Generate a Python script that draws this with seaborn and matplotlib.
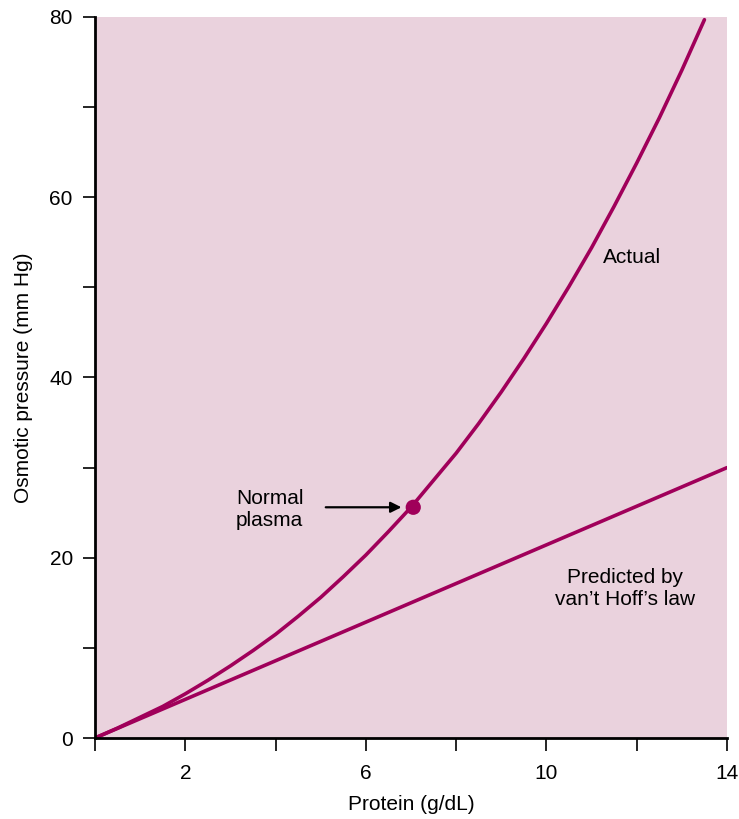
import matplotlib
matplotlib.use("Agg")
import matplotlib.pyplot as plt
import seaborn as sns
import pandas as pd

# data
protein_actual = [0, 0.5, 1, 1.5, 2, 2.5, 3, 3.5, 4, 4.5, 5, 5.5, 6, 6.5, 7, 7.5, 8, 8.5,
                  9, 9.5, 10, 10.5, 11, 11.5, 12, 12.5, 13, 13.5]
pressure_actual = [0, 1.1, 2.3, 3.5, 4.9, 6.4, 8.0, 9.7, 11.5, 13.5, 15.6, 17.9, 20.3, 22.9,
                   25.6, 28.6, 31.6, 34.9, 38.4, 42.1, 46.0, 50.1, 54.4, 59.0, 63.8, 68.8,
                   74.1, 79.7]
protein_vanthoff = [0, 14]
pressure_vanthoff = [0, 30]
normal_protein = [7.05]
normal_pressure = [25.6]

x_ticks = [0, 2, 4, 6, 8, 10, 12, 14]
x_tick_labels = ["", "2", "", "6", "", "10", "", "14"]
y_ticks = [0, 10, 20, 30, 40, 50, 60, 70, 80]
y_tick_labels = ["0", "", "20", "", "40", "", "60", "", "80"]

LINE = "#A0005A"
BG = "#EAD2DD"
FS = 15

sns.set_style("ticks")
plt.rcParams["font.family"] = ["Liberation Sans", "DejaVu Sans"]
plt.rcParams["text.color"] = "black"
plt.rcParams["axes.labelcolor"] = "black"

fig = plt.figure(figsize=(7.39, 8.19), dpi=100)
ax = fig.add_axes([95 / 739, 1 - 738 / 819, 632 / 739, 721 / 819])
ax.set_facecolor(BG)

actual = pd.DataFrame({"protein": protein_actual, "pressure": pressure_actual})
vanthoff = pd.DataFrame({"protein": protein_vanthoff, "pressure": pressure_vanthoff})
sns.lineplot(data=actual, x="protein", y="pressure", color=LINE, linewidth=2.6, ax=ax)
sns.lineplot(data=vanthoff, x="protein", y="pressure", color=LINE, linewidth=2.6, ax=ax)
sns.scatterplot(x=normal_protein, y=normal_pressure, color=LINE, s=120, edgecolor="none",
                zorder=5, ax=ax)

ax.set_xlim(0, 14)
ax.set_ylim(0, 80)
ax.set_xticks(x_ticks)
ax.set_xticklabels(x_tick_labels)
ax.set_yticks(y_ticks)
ax.set_yticklabels(y_tick_labels)
ax.tick_params(axis="both", length=9, width=1.2, colors="black", labelsize=FS)
ax.tick_params(axis="x", pad=10)
ax.tick_params(axis="y", pad=7)
for s in ["top", "right"]:
    ax.spines[s].set_visible(False)
for s in ["left", "bottom"]:
    ax.spines[s].set_linewidth(2)
    ax.spines[s].set_color("black")

ax.set_xlabel("Protein (g/dL)", fontsize=FS, labelpad=8)
ax.set_ylabel("Osmotic pressure (mm Hg)", fontsize=FS, labelpad=12)

ax.text(11.9, 53.3, "Actual", fontsize=FS, ha="center", va="center")
ax.text(3.12, 25.4, "Normal\nplasma", fontsize=FS, ha="left", va="center", linespacing=1.2)
ax.annotate("", xy=(6.85, 25.6), xytext=(5.05, 25.6),
            arrowprops=dict(arrowstyle="-|>", color="black", lw=1.6, mutation_scale=16))
ax.text(11.75, 16.6, "Predicted by\nvan\u2019t Hoff\u2019s law", fontsize=FS, ha="center",
        va="center", linespacing=1.2)

fig.savefig("out.png", dpi=100)
